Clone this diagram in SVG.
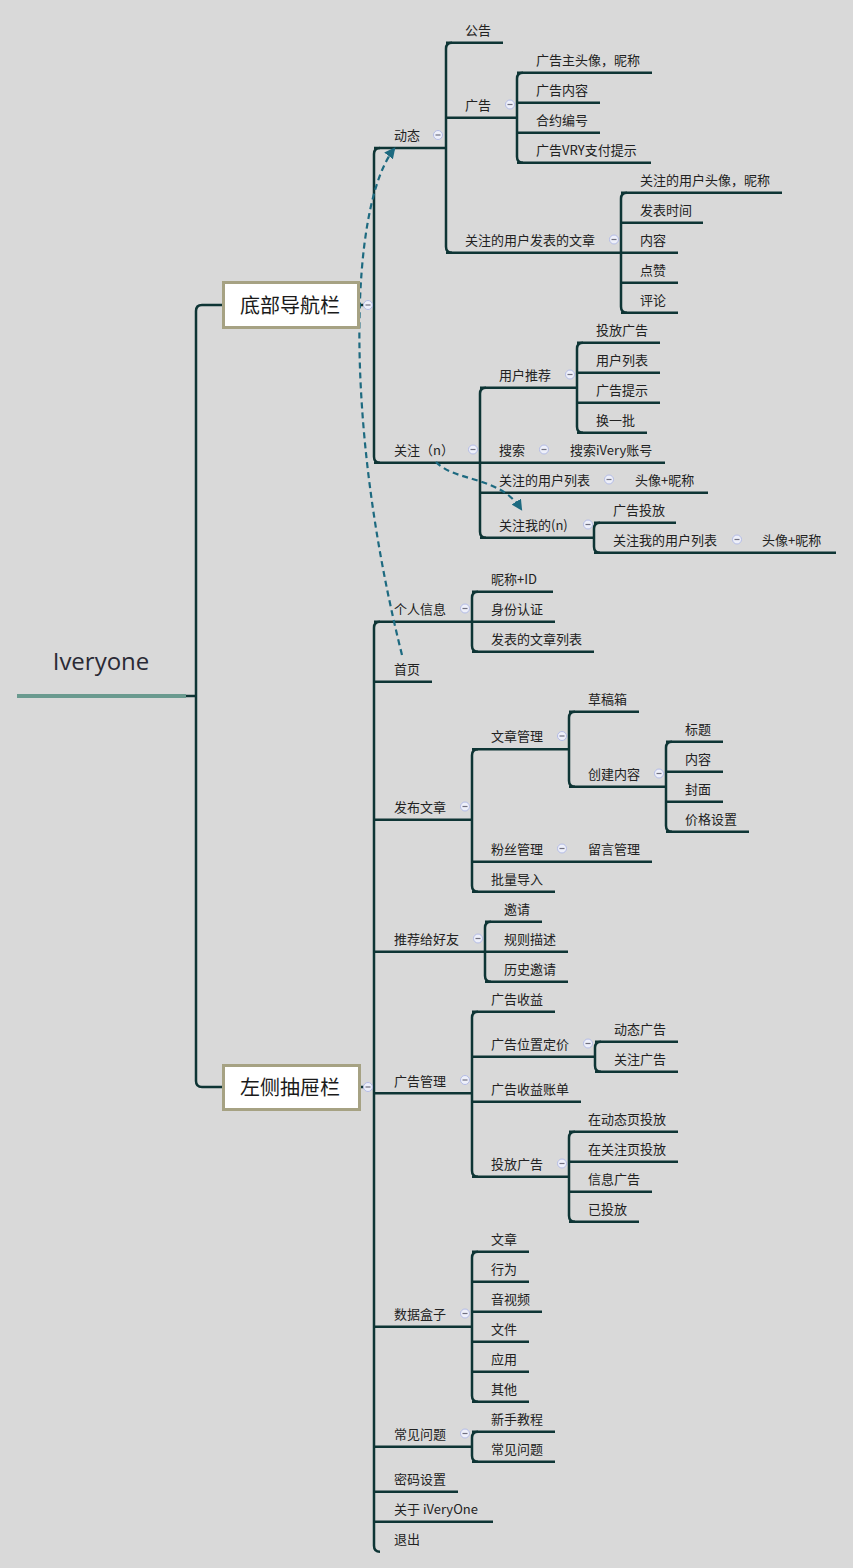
<svg xmlns="http://www.w3.org/2000/svg" width="853" height="1568" viewBox="0 0 853 1568">
<style>
.ln{stroke:#0e3535;stroke-width:2.5;fill:none}
.t{font-family:"Noto Sans CJK SC","Liberation Sans",sans-serif;font-size:13px;fill:#222}
.bx{fill:#fff;stroke:#a6a283;stroke-width:3}
.bt{font-family:"Noto Sans CJK SC","Liberation Sans",sans-serif;font-size:20px;fill:#1a1a1a;text-anchor:middle}
.rel{stroke:#1d6a80;stroke-width:2.2;fill:none;stroke-dasharray:6 4}
</style>
<defs>
<g id="col"><circle r="4.5" fill="#eef0fa" stroke="#b4bce6" stroke-width="1"/><line x1="-2.5" y1="0" x2="2.5" y2="0" stroke="#707080" stroke-width="1.2"/></g>
<marker id="ah" viewBox="0 0 10 10" refX="8" refY="5" markerWidth="5" markerHeight="5" orient="auto" markerUnits="strokeWidth"><path d="M0,0 L10,5 L0,10 z" fill="#1d6a80"/></marker>
</defs>
<rect width="853" height="1568" fill="#d9d9d9"/>

<g id="connectors">
<path class="ln" d="M186,696 H196"/>
<path class="ln" d="M222,305 H202 Q196,305 196,311 V1081 Q196,1087 202,1087 H222"/>
<!-- box1 -->
<path class="ln" d="M360,305 H374"/>
<path class="ln" d="M380,148 Q374,148 374,154 V456.7 Q374,462.7 380,462.7"/>
<path class="ln" d="M374,148 H446"/>
<path class="ln" d="M452,42.7 Q446,42.7 446,48.7 V246.7 Q446,252.7 452,252.7"/>
<path class="ln" d="M446,42.7 H503"/>
<path class="ln" d="M446,117.7 H517"/>
<path class="ln" d="M523,72.7 Q517,72.7 517,78.7 V156.7 Q517,162.7 523,162.7"/>
<path class="ln" d="M517,72.7 H652 M517,102.7 H600 M517,132.7 H600 M517,162.7 H651"/>
<path class="ln" d="M446,252.7 H621"/>
<path class="ln" d="M627,192.7 Q621,192.7 621,198.7 V306.7 Q621,312.7 627,312.7"/>
<path class="ln" d="M621,192.7 H782 M621,222.7 H703 M621,252.7 H678 M621,282.7 H678 M621,312.7 H678"/>
<path class="ln" d="M374,462.7 H665"/>
<path class="ln" d="M486,387.7 Q480,387.7 480,393.7 V531.7 Q480,537.7 486,537.7"/>
<path class="ln" d="M480,387.7 H577"/>
<path class="ln" d="M583,342.7 Q577,342.7 577,348.7 V426.7 Q577,432.7 583,432.7"/>
<path class="ln" d="M577,342.7 H660 M577,372.7 H660 M577,402.7 H660 M577,432.7 H647"/>
<path class="ln" d="M480,492.7 H708"/>
<path class="ln" d="M480,537.7 H594"/>
<path class="ln" d="M600,522.7 Q594,522.7 594,528.7 V546.7 Q594,552.7 600,552.7"/>
<path class="ln" d="M594,522.7 H676 M594,552.7 H836"/>
<!-- box2 -->
<path class="ln" d="M361,1087 H374"/>
<path class="ln" d="M380,621.7 Q374,621.7 374,627.7 V1545.7 Q374,1551.7 380,1551.7"/>
<path class="ln" d="M374,621.7 H472"/>
<path class="ln" d="M478,591.7 Q472,591.7 472,597.7 V645.7 Q472,651.7 478,651.7"/>
<path class="ln" d="M472,591.7 H553 M472,621.7 H555 M472,651.7 H594"/>
<path class="ln" d="M374,681.7 H432"/>
<path class="ln" d="M374,819.7 H472"/>
<path class="ln" d="M478,749.2 Q472,749.2 472,755.2 V885.7 Q472,891.7 478,891.7"/>
<path class="ln" d="M472,749.2 H569"/>
<path class="ln" d="M575,711.7 Q569,711.7 569,717.7 V780.7 Q569,786.7 575,786.7"/>
<path class="ln" d="M569,711.7 H639 M569,786.7 H666"/>
<path class="ln" d="M672,741.7 Q666,741.7 666,747.7 V825.7 Q666,831.7 672,831.7"/>
<path class="ln" d="M666,741.7 H723 M666,771.7 H723 M666,801.7 H723 M666,831.7 H749"/>
<path class="ln" d="M472,861.7 H652 M472,891.7 H555"/>
<path class="ln" d="M374,951.7 H485"/>
<path class="ln" d="M491,921.7 Q485,921.7 485,927.7 V975.7 Q485,981.7 491,981.7"/>
<path class="ln" d="M485,921.7 H542 M485,951.7 H568 M485,981.7 H568"/>
<path class="ln" d="M374,1093.3 H472"/>
<path class="ln" d="M478,1011.7 Q472,1011.7 472,1017.7 V1170.7 Q472,1176.7 478,1176.7"/>
<path class="ln" d="M472,1011.7 H555 M472,1056.7 H595 M472,1101.7 H581 M472,1176.7 H569"/>
<path class="ln" d="M601,1041.7 Q595,1041.7 595,1047.7 V1065.7 Q595,1071.7 601,1071.7"/>
<path class="ln" d="M595,1041.7 H678 M595,1071.7 H678"/>
<path class="ln" d="M575,1131.7 Q569,1131.7 569,1137.7 V1215.7 Q569,1221.7 575,1221.7"/>
<path class="ln" d="M569,1131.7 H678 M569,1161.7 H678 M569,1191.7 H652 M569,1221.7 H639"/>
<path class="ln" d="M374,1326.7 H472"/>
<path class="ln" d="M478,1251.7 Q472,1251.7 472,1257.7 V1395.7 Q472,1401.7 478,1401.7"/>
<path class="ln" d="M472,1251.7 H529 M472,1281.7 H529 M472,1311.7 H542 M472,1341.7 H529 M472,1371.7 H529 M472,1401.7 H529"/>
<path class="ln" d="M374,1446.7 H472"/>
<path class="ln" d="M478,1431.7 Q472,1431.7 472,1437.7 V1455.7 Q472,1461.7 478,1461.7"/>
<path class="ln" d="M472,1431.7 H555 M472,1461.7 H555"/>
<path class="ln" d="M374,1491.7 H458 M374,1521.7 H493"/>
<!-- relationships -->
<path class="rel" d="M402,655 C343,420 350,205 394,149" marker-end="url(#ah)"/>
<path class="rel" d="M436,462 C455,482 500,476 521,509" marker-end="url(#ah)"/>
</g>

<g id="root"><path d="M17,696 H186" stroke="#6a9a8f" stroke-width="4"/><text x="101" y="670" font-family="'Open Sans','Liberation Sans',sans-serif" font-size="24" fill="#2a2a35" text-anchor="middle">Iveryone</text></g>
<g id="n-bottomnav"><rect class="bx" x="223.5" y="282.5" width="135" height="45"/><text class="bt" x="290" y="313">底部导航栏</text></g>
<g id="n-drawer"><rect class="bx" x="223.5" y="1065.5" width="136" height="44"/><text class="bt" x="290" y="1095">左侧抽屉栏</text></g>

<g id="n-dongtai"><text class="t" x="394" y="140">动态</text></g>
<g id="n-gonggao"><text class="t" x="465" y="35">公告</text></g>
<g id="n-guanggao"><text class="t" x="465" y="110">广告</text></g>
<g id="n-gg1"><text class="t" x="536" y="65">广告主头像，昵称</text></g>
<g id="n-gg2"><text class="t" x="536" y="95">广告内容</text></g>
<g id="n-gg3"><text class="t" x="536" y="125">合约编号</text></g>
<g id="n-gg4"><text class="t" x="536" y="155">广告VRY支付提示</text></g>
<g id="n-gzwz"><text class="t" x="465" y="245">关注的用户发表的文章</text></g>
<g id="n-wz1"><text class="t" x="640" y="185">关注的用户头像，昵称</text></g>
<g id="n-wz2"><text class="t" x="640" y="215">发表时间</text></g>
<g id="n-wz3"><text class="t" x="640" y="245">内容</text></g>
<g id="n-wz4"><text class="t" x="640" y="275">点赞</text></g>
<g id="n-wz5"><text class="t" x="640" y="305">评论</text></g>
<g id="n-guanzhu"><text class="t" x="394" y="455">关注（n）</text></g>
<g id="n-yhtj"><text class="t" x="499" y="380">用户推荐</text></g>
<g id="n-tj1"><text class="t" x="596" y="335">投放广告</text></g>
<g id="n-tj2"><text class="t" x="596" y="365">用户列表</text></g>
<g id="n-tj3"><text class="t" x="596" y="395">广告提示</text></g>
<g id="n-tj4"><text class="t" x="596" y="425">换一批</text></g>
<g id="n-sousuo"><text class="t" x="499" y="455">搜索</text></g>
<g id="n-ss1"><text class="t" x="570" y="455">搜索iVery账号</text></g>
<g id="n-gzlb"><text class="t" x="499" y="485">关注的用户列表</text></g>
<g id="n-gzlb1"><text class="t" x="635" y="485">头像+昵称</text></g>
<g id="n-gzwd"><text class="t" x="499" y="530">关注我的(n)</text></g>
<g id="n-wd1"><text class="t" x="613" y="515">广告投放</text></g>
<g id="n-wd2"><text class="t" x="613" y="545">关注我的用户列表</text></g>
<g id="n-wd21"><text class="t" x="762" y="545">头像+昵称</text></g>

<g id="n-grxx"><text class="t" x="394" y="614">个人信息</text></g>
<g id="n-gr1"><text class="t" x="491" y="584">昵称+ID</text></g>
<g id="n-gr2"><text class="t" x="491" y="614">身份认证</text></g>
<g id="n-gr3"><text class="t" x="491" y="644">发表的文章列表</text></g>
<g id="n-shouye"><text class="t" x="394" y="674">首页</text></g>
<g id="n-fbwz"><text class="t" x="394" y="812">发布文章</text></g>
<g id="n-wzgl"><text class="t" x="491" y="741">文章管理</text></g>
<g id="n-cgx"><text class="t" x="588" y="704">草稿箱</text></g>
<g id="n-cjnr"><text class="t" x="588" y="779">创建内容</text></g>
<g id="n-cj1"><text class="t" x="685" y="734">标题</text></g>
<g id="n-cj2"><text class="t" x="685" y="764">内容</text></g>
<g id="n-cj3"><text class="t" x="685" y="794">封面</text></g>
<g id="n-cj4"><text class="t" x="685" y="824">价格设置</text></g>
<g id="n-fsgl"><text class="t" x="491" y="854">粉丝管理</text></g>
<g id="n-lygl"><text class="t" x="588" y="854">留言管理</text></g>
<g id="n-pldr"><text class="t" x="491" y="884">批量导入</text></g>
<g id="n-tjhy"><text class="t" x="394" y="944">推荐给好友</text></g>
<g id="n-yq"><text class="t" x="504" y="914">邀请</text></g>
<g id="n-gzms"><text class="t" x="504" y="944">规则描述</text></g>
<g id="n-lsyq"><text class="t" x="504" y="974">历史邀请</text></g>
<g id="n-gggl"><text class="t" x="394" y="1086">广告管理</text></g>
<g id="n-ggsy"><text class="t" x="491" y="1004">广告收益</text></g>
<g id="n-wzdj"><text class="t" x="491" y="1049">广告位置定价</text></g>
<g id="n-dtgg"><text class="t" x="614" y="1034">动态广告</text></g>
<g id="n-gzgg"><text class="t" x="614" y="1064">关注广告</text></g>
<g id="n-syzd"><text class="t" x="491" y="1094">广告收益账单</text></g>
<g id="n-tfgg"><text class="t" x="491" y="1169">投放广告</text></g>
<g id="n-tf1"><text class="t" x="588" y="1124">在动态页投放</text></g>
<g id="n-tf2"><text class="t" x="588" y="1154">在关注页投放</text></g>
<g id="n-tf3"><text class="t" x="588" y="1184">信息广告</text></g>
<g id="n-tf4"><text class="t" x="588" y="1214">已投放</text></g>
<g id="n-sjhz"><text class="t" x="394" y="1319">数据盒子</text></g>
<g id="n-hz1"><text class="t" x="491" y="1244">文章</text></g>
<g id="n-hz2"><text class="t" x="491" y="1274">行为</text></g>
<g id="n-hz3"><text class="t" x="491" y="1304">音视频</text></g>
<g id="n-hz4"><text class="t" x="491" y="1334">文件</text></g>
<g id="n-hz5"><text class="t" x="491" y="1364">应用</text></g>
<g id="n-hz6"><text class="t" x="491" y="1394">其他</text></g>
<g id="n-cjwt"><text class="t" x="394" y="1439">常见问题</text></g>
<g id="n-xsjc"><text class="t" x="491" y="1424">新手教程</text></g>
<g id="n-cjwt2"><text class="t" x="491" y="1454">常见问题</text></g>
<g id="n-mmsz"><text class="t" x="394" y="1484">密码设置</text></g>
<g id="n-gy"><text class="t" x="394" y="1514">关于 iVeryOne</text></g>
<g id="n-tc"><text class="t" x="394" y="1544">退出</text></g>

<g id="collapse">
<use href="#col" x="368" y="305"/>
<use href="#col" x="368" y="1087"/>
<use href="#col" x="438" y="135"/>
<use href="#col" x="510" y="104.5"/>
<use href="#col" x="614" y="239.5"/>
<use href="#col" x="473" y="449.5"/>
<use href="#col" x="570" y="374.5"/>
<use href="#col" x="544" y="449.5"/>
<use href="#col" x="609" y="479.5"/>
<use href="#col" x="588" y="524.5"/>
<use href="#col" x="737" y="539.5"/>
<use href="#col" x="465" y="608.5"/>
<use href="#col" x="465" y="806.5"/>
<use href="#col" x="562" y="736"/>
<use href="#col" x="659" y="773.5"/>
<use href="#col" x="562" y="848.5"/>
<use href="#col" x="478" y="938.5"/>
<use href="#col" x="465" y="1080"/>
<use href="#col" x="588" y="1043.5"/>
<use href="#col" x="562" y="1163.5"/>
<use href="#col" x="465" y="1313.5"/>
<use href="#col" x="465" y="1433.5"/>
</g>
</svg>
